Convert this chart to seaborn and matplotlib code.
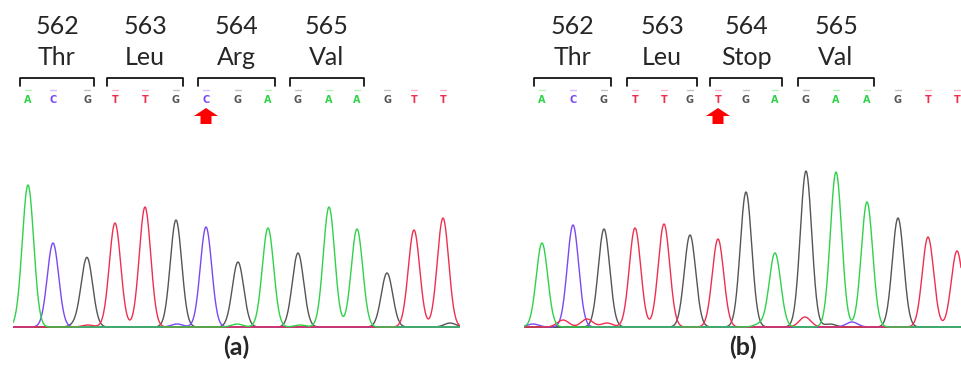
#!/usr/bin/env python3
"""
Sanger chromatograms around codon 564: wild type (a) vs. nonsense mutant (b).
"""

import numpy as np
import pandas as pd
import matplotlib.pyplot as plt
import seaborn as sns

# base calls and main peaks (scan position, peak height)
bases_a = list("ACGTTGCGAGAAGTT")
scans_a = [15, 40, 74, 102, 132, 163, 193, 225, 255, 285, 316, 344, 374, 401, 430]
heights_a = [142, 84, 69, 104, 120, 107, 100, 65, 99, 74, 120, 98, 54, 97, 109]

bases_b = list("ACGTTGTGAGAAGTT")
scans_b = [18, 49, 80, 111, 140, 166, 194, 222, 251, 282, 312, 343, 374, 404, 433]
heights_b = [84, 102, 98, 99, 103, 92, 88, 135, 74, 156, 155, 125, 109, 90, 76]

# small background peaks
minor_bases_a = list("GTCAAG")
minor_scans_a = [64, 75, 164, 224, 287, 437]
minor_heights_a = [3, 2, 3, 3, 2, 4]

minor_bases_b = list("CTTTTACG")
minor_scans_b = [9, 39, 63, 83, 281, 236, 328, 306]
minor_heights_b = [3, 7, 8, 4, 10, 3, 5, 3]

codon_numbers = ["562", "563", "564", "565"]
amino_a = ["Thr", "Leu", "Arg", "Val"]
amino_b = ["Thr", "Leu", "Stop", "Val"]
mutated_base = 6

colors = {"A": "#2fd24a", "C": "#7a48f2", "G": "#555555", "T": "#ee2f50"}
SIGMA = 5.7


def build_trace(bases, scans, heights, mbases, mscans, mheights, length):
    x = np.linspace(0, length, 1200)
    rows = []
    for b in "ACGT":
        y = np.zeros_like(x)
        for bb, s, h in zip(list(bases) + list(mbases), list(scans) + list(mscans),
                            list(heights) + list(mheights)):
            if bb == b:
                y += h * np.exp(-(x - s) ** 2 / (2 * SIGMA ** 2))
        rows.append(pd.DataFrame({"scan": x, "signal": y, "base": b}))
    return pd.concat(rows, ignore_index=True)


def draw_panel(ax, bases, scans, heights, mbases, mscans, mheights, amino, length, tag):
    df = build_trace(bases, scans, heights, mbases, mscans, mheights, length)
    ax.axhline(0, color="#444444", lw=1.2, zorder=0)
    sns.lineplot(data=df, x="scan", y="signal", hue="base", palette=colors,
                 hue_order=["G", "C", "T", "A"], estimator=None, sort=False,
                 lw=1.0, legend=False, ax=ax)
    ax.set_xlim(0, length)
    ax.set_ylim(-3, 239)
    ax.set_xticks([])
    ax.set_yticks([])
    ax.set_xlabel("")
    ax.set_ylabel("")
    for side in ax.spines:
        ax.spines[side].set_visible(False)

    # base calls with their little markers
    for b, s in zip(bases, scans):
        ax.text(s, 224, b, color=colors[b], fontsize=7, fontweight="bold",
                ha="center", va="baseline", family="DejaVu Sans")
        ax.plot([s - 3, s + 3], [237.5, 237.5], color=colors[b], alpha=0.35,
                lw=1, clip_on=False)

    # codon brackets and labels
    for i in range(4):
        x0 = scans[3 * i] - 8
        x1 = scans[3 * i + 2] + 7
        ax.plot([x0, x0, x1, x1], [241, 249, 249, 241], color="black", lw=1.2,
                clip_on=False)
        xc = (x0 + x1) / 2
        ax.text(xc, 293, codon_numbers[i], ha="center", va="baseline", fontsize=18)
        ax.text(xc, 262, amino[i], ha="center", va="baseline", fontsize=18)

    # mutation arrow
    xm = scans[mutated_base]
    ax.arrow(xm, 203, 0, 16, width=11, head_width=24, head_length=8,
             length_includes_head=True, color="#ff0000", clip_on=False, lw=0)

    ax.text(length / 2, -20, tag, ha="center", va="center", fontsize=18,
            fontweight="bold")


sns.set_style("white")
plt.rcParams["font.family"] = ["Lato", "DejaVu Sans"]

W, H = 961, 372
fig = plt.figure(figsize=(W / 100, H / 100), dpi=100)
bottom = (H - 330) / H
height = 242 / H
ax_a = fig.add_axes([13 / W, bottom, 447 / W, height])
ax_b = fig.add_axes([524 / W, bottom, 437 / W, height])

draw_panel(ax_a, bases_a, scans_a, heights_a, minor_bases_a, minor_scans_a,
           minor_heights_a, amino_a, 447, "(a)")
draw_panel(ax_b, bases_b, scans_b, heights_b, minor_bases_b, minor_scans_b,
           minor_heights_b, amino_b, 437, "(b)")

fig.savefig("out.png", dpi=100)
plt.close(fig)
